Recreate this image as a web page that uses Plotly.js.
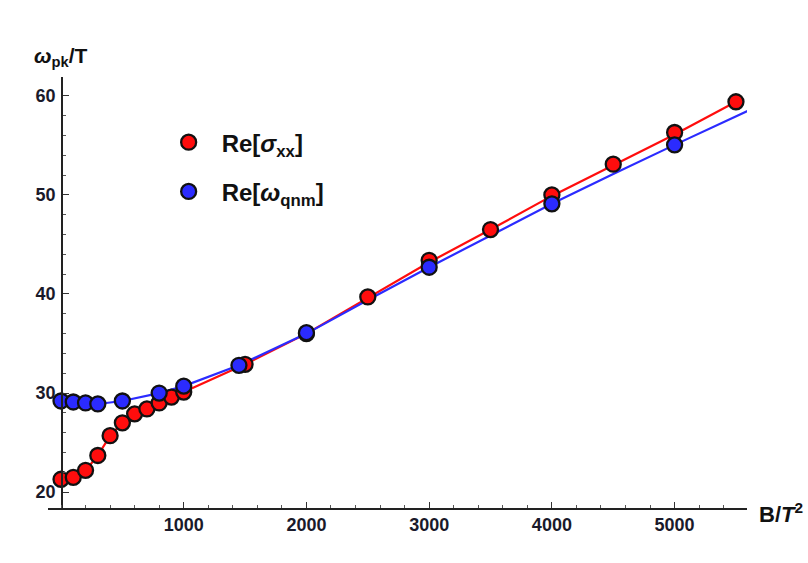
<!DOCTYPE html>
<html>
<head>
<meta charset="utf-8">
<script src="https://cdn.plot.ly/plotly-3.0.1.min.js"></script>
<style>html,body{margin:0;padding:0;background:#fff;}#chart{width:808px;height:563px;}</style>
</head>
<body>
<div id="chart"></div>
<script>
// Re[sigma_xx] markers
const sigmaX = [0, 100, 200, 300, 400, 500, 600, 700, 800, 900, 1000, 1500, 2000, 2500, 3000, 3500, 4000, 4500, 5000, 5500];
const sigmaY = [21.3, 21.5, 22.2, 23.7, 25.7, 27.0, 27.9, 28.4, 29.0, 29.6, 30.1, 32.9, 36.0, 39.7, 43.4, 46.5, 50.0, 53.1, 56.3, 59.4];
// Re[omega_qnm] markers
const qnmX = [0, 100, 200, 300, 500, 800, 1000, 1450, 2000, 3000, 4000, 5000];
const qnmY = [29.2, 29.1, 29.0, 28.9, 29.2, 30.0, 30.7, 32.8, 36.1, 42.7, 49.1, 55.05];
// curves
const sigmaLineX = [0, 100, 200, 300, 400, 500, 600, 700, 800, 900, 1000, 1500, 2000, 2500, 3000, 3500, 4000, 4500, 5000, 5500];
const sigmaLineY = [21.3, 21.5, 22.2, 23.7, 25.7, 27.0, 27.9, 28.4, 29.0, 29.6, 30.1, 32.9, 36.0, 39.6, 43.2, 46.5, 49.9, 53.0, 56.1, 59.4];
const qnmLineX = [0, 100, 200, 300, 500, 800, 1000, 1450, 2000, 2500, 3000, 3500, 4000, 4500, 5000, 5600];
const qnmLineY = [29.2, 29.1, 29.0, 28.9, 29.2, 30.0, 30.7, 32.8, 36.0, 39.4, 42.7, 45.9, 49.1, 52.1, 55.05, 58.5];
// labels
const xTickVals = [1000, 2000, 3000, 4000, 5000];
const yTickVals = [20, 30, 40, 50, 60];
const seriesNames = ['Re[<i>σ</i><sub>xx</sub>]', 'Re[<i>ω</i><sub>qnm</sub>]'];
const yTitle = '<i>ω</i><sub>pk</sub>/T';
const xTitle = 'B/<i>T</i><sup>2</sup>';

const RED = '#ff0d0d', BLUE = '#2b2bff';
const xRange = [-106, 5590];
const yPos = (0 - xRange[0]) / (xRange[1] - xRange[0]);

const traces = [
  {x: sigmaLineX, y: sigmaLineY, mode: 'lines', line: {color: RED, width: 2.2}, showlegend: false, hoverinfo: 'skip'},
  {x: qnmLineX, y: qnmLineY, mode: 'lines', line: {color: BLUE, width: 2.2}, showlegend: false, hoverinfo: 'skip'},
  {x: sigmaX, y: sigmaY, mode: 'markers', name: seriesNames[0], legendgroup: 'a',
   marker: {color: RED, size: 15, line: {color: '#111', width: 2.3}}},
  {x: qnmX, y: qnmY, mode: 'markers', name: seriesNames[1], legendgroup: 'b',
   marker: {color: BLUE, size: 15, line: {color: '#111', width: 2.3}}}
];

const axFont = {family: 'Liberation Sans, Arial, sans-serif', size: 18, color: '#1a1a2a', weight: 'bold'};

const layout = {
  width: 808, height: 563,
  paper_bgcolor: '#ffffff', plot_bgcolor: 'rgba(0,0,0,0)',
  margin: {l: 48, r: 61, t: 77, b: 55},
  font: {family: 'Liberation Sans, Arial, sans-serif'},
  xaxis: {
    range: xRange, showgrid: false, zeroline: false,
    showline: true, linecolor: '#222', linewidth: 1.5,
    tickmode: 'array', tickvals: xTickVals, ticks: 'inside', ticklen: 6, tickcolor: '#333', tickwidth: 1,
    minor: {dtick: 200, tick0: 0, ticks: 'inside', ticklen: 3.5, tickcolor: '#555', tickwidth: 1},
    tickfont: axFont, anchor: 'y'
  },
  yaxis: {
    range: [18.4, 61.9], showgrid: false, zeroline: false,
    showline: true, linecolor: '#222', linewidth: 1.5,
    anchor: 'free', position: yPos,
    tickmode: 'array', tickvals: yTickVals, ticks: 'inside', ticklen: 6, tickcolor: '#333', tickwidth: 1,
    minor: {dtick: 2, tick0: 20, ticks: 'inside', ticklen: 3.5, tickcolor: '#555', tickwidth: 1},
    tickfont: axFont, ticklabelstandoff: 2
  },
  legend: {
    x: 0.154, y: 0.9, xanchor: 'left', yanchor: 'top',
    bgcolor: 'rgba(0,0,0,0)', borderwidth: 0, itemwidth: 56,
    font: {family: 'Liberation Sans, Arial, sans-serif', size: 24, color: '#111', weight: 'bold'},
    traceorder: 'grouped', tracegroupgap: 15
  },
  annotations: [
    {text: yTitle, xref: 'paper', yref: 'paper', x: yPos, y: 1.046, xanchor: 'center', yanchor: 'middle',
     showarrow: false, font: {family: 'Liberation Sans, Arial, sans-serif', size: 21, color: '#111', weight: 'bold'}},
    {text: xTitle, xref: 'paper', yref: 'paper', x: 1.014, y: -0.012, xanchor: 'left', yanchor: 'middle',
     showarrow: false, font: {family: 'Liberation Sans, Arial, sans-serif', size: 22, color: '#111', weight: 'bold'}}
  ]
};

Plotly.newPlot('chart', traces, layout, {displayModeBar: false, staticPlot: true});
</script>
</body>
</html>
